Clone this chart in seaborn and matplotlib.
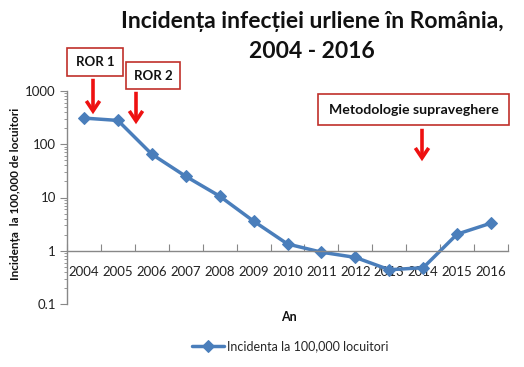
import matplotlib
matplotlib.use("Agg")
import matplotlib.pyplot as plt
import seaborn as sns
import pandas as pd
import numpy as np
from matplotlib.patches import Rectangle, FancyArrowPatch
from matplotlib.ticker import FixedLocator, NullFormatter, LogLocator

years = ["2004", "2005", "2006", "2007", "2008", "2009", "2010",
         "2011", "2012", "2013", "2014", "2015", "2016"]
incidence = [310, 280, 65, 25, 10.6, 3.6, 1.34, 0.94, 0.75, 0.44, 0.48, 2.05, 3.3]
series_name = "Incidenta la 100,000 locuitori"
yticks = [0.1, 1, 10, 100, 1000]
ytick_labels = ["0.1", "1", "10", "100", "1000"]

sns.set_style("white")
FONT = ["Lato", "DejaVu Sans"]
plt.rcParams["font.family"] = FONT

W, H = 524, 367
fig = plt.figure(figsize=(W / 100, H / 100), dpi=100)
ax = fig.add_axes([67 / W, 1 - 304 / H, (508 - 67) / W, (304 - 91) / H])

df = pd.DataFrame({"An": years, "val": incidence})
xpos = np.arange(len(years))
blue = "#4A7EBB"
sns.lineplot(x=xpos, y=df["val"], ax=ax, color=blue, lw=2.5, marker="D",
             markersize=6.5, markeredgecolor=blue, label=series_name, legend=False)

ax.set_yscale("log")
ax.set_ylim(0.1, 1000)
ax.set_xlim(-0.5, len(years) - 0.5)
ax.set_yticks(yticks)
ax.set_yticklabels(ytick_labels, fontsize=9.5, color="#222222")
ax.yaxis.set_minor_locator(LogLocator(base=10, subs=np.arange(2, 10)))
ax.yaxis.set_minor_formatter(NullFormatter())
ax.tick_params(axis="y", which="major", direction="out", length=5, width=0.8,
               color="#888888", left=True, pad=3)
ax.tick_params(axis="y", which="minor", direction="out", length=2.5, width=0.6,
               color="#888888", left=True)

# category axis crossing at 1
ax.spines["bottom"].set_position(("data", 1))
for s in ["top", "right"]:
    ax.spines[s].set_visible(False)
for s in ["left", "bottom"]:
    ax.spines[s].set_color("#888888")
    ax.spines[s].set_linewidth(1.0)
ax.xaxis.set_major_locator(FixedLocator(np.arange(-0.5, len(years), 1.0)))
ax.xaxis.set_major_formatter(NullFormatter())
ax.xaxis.set_minor_locator(FixedLocator(xpos))
ax.set_xticklabels(years, minor=True, fontsize=9.5, color="#222222")
ax.tick_params(axis="x", which="major", direction="in", length=5, width=0.8,
               color="#888888", bottom=True)
ax.tick_params(axis="x", which="minor", length=0, pad=11)
ax.set_xlabel("")
ax.set_ylabel("")
ax.grid(False)

# title
fig.text(312 / W, 1 - 22 / H, "Incidența infecției urliene în România,",
         ha="center", va="center", fontsize=16.5, fontweight="bold", color="#111111")
fig.text(312 / W, 1 - 51 / H, "2004 - 2016",
         ha="center", va="center", fontsize=16.5, fontweight="bold", color="#111111")

# axis titles
fig.text(289 / W, 1 - 317 / H, "An", ha="center", va="center",
         fontsize=9, fontweight="bold", color="#111111")
fig.text(16 / W, 1 - 194 / H, "Incidența  la 100,000 de locuitori", ha="center",
         va="center", rotation=90, fontsize=8.5, fontweight="bold", color="#111111")

# legend
handles, labels = ax.get_legend_handles_labels()
leg = fig.legend(handles, labels, loc="center", bbox_to_anchor=(290 / W, 1 - 346 / H),
                 frameon=False, fontsize=9, handlelength=2.6, handletextpad=0.2)

# annotation boxes and arrows (figure pixel coordinates, y from top)
box_color = "#C0302A"
arrow_color = "#EE1111"

def box(x0, y0, x1, y1, text, fs):
    r = Rectangle((x0 / W, 1 - y1 / H), (x1 - x0) / W, (y1 - y0) / H,
                  transform=fig.transFigure, fill=True, facecolor="white",
                  edgecolor=box_color, lw=1.2)
    fig.add_artist(r)
    fig.text((x0 + x1) / 2 / W, 1 - (y0 + y1) / 2 / H, text, ha="center",
             va="center", fontsize=fs, fontweight="bold", color="#111111")

def arrow(x, y0, y1):
    a = FancyArrowPatch((x / W, 1 - y0 / H), (x / W, 1 - y1 / H),
                        transform=fig.transFigure,
                        arrowstyle="->,head_length=0.45,head_width=0.3",
                        color=arrow_color, lw=2.6, mutation_scale=16,
                        capstyle="butt", joinstyle="miter")
    fig.add_artist(a)

box(67, 48, 123, 76, "ROR 1", 9.5)
arrow(93, 76, 117)
box(126, 62, 180, 89, "ROR 2", 9.5)
arrow(136, 89, 127)
box(318, 94, 509, 125, "Metodologie supraveghere", 10.2)
arrow(422, 126, 164)

fig.savefig("out.png", dpi=100)
